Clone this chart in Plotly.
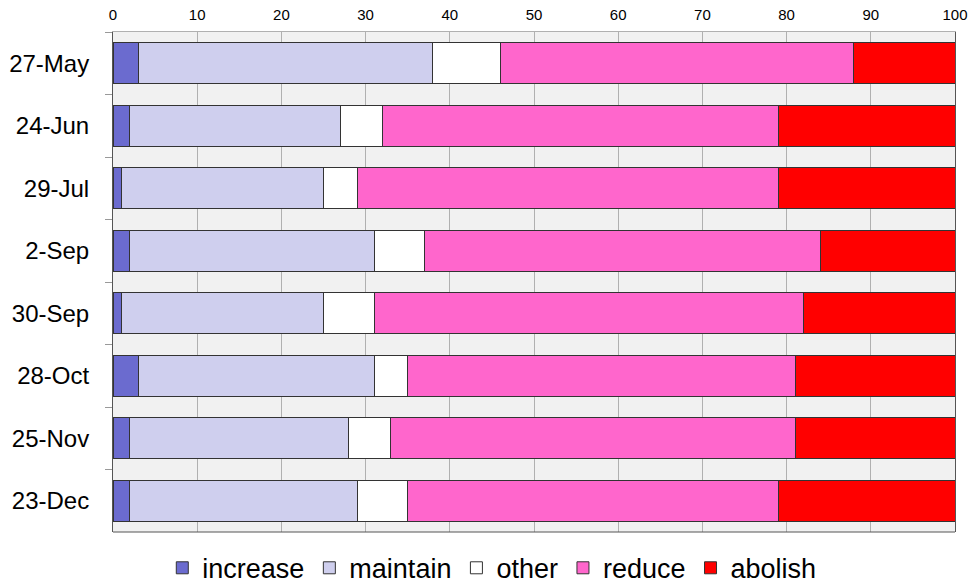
import plotly.graph_objects as go

# Survey dates (top to bottom)
dates = ["27-May", "24-Jun", "29-Jul", "2-Sep", "30-Sep", "28-Oct", "25-Nov", "23-Dec"]

# Share of responses per option, in percent
increase = [3, 2, 1, 2, 1, 3, 2, 2]
maintain = [35, 25, 24, 29, 24, 28, 26, 27]
other = [8, 5, 4, 6, 6, 4, 5, 6]
reduce = [42, 47, 50, 47, 51, 46, 48, 44]
abolish = [12, 21, 21, 16, 18, 19, 19, 21]

x_ticks = [0, 10, 20, 30, 40, 50, 60, 70, 80, 90, 100]

series = [
    ("increase", increase, "#6b6bcf"),
    ("maintain", maintain, "#cfcfee"),
    ("other", other, "#ffffff"),
    ("reduce", reduce, "#ff66cc"),
    ("abolish", abolish, "#ff0000"),
]

fig = go.Figure()
for name, vals, color in series:
    fig.add_trace(go.Bar(
        name=name,
        y=dates,
        x=vals,
        orientation="h",
        marker=dict(color=color, line=dict(color="#333333", width=1)),
    ))

fig.update_layout(
    width=970,
    height=584,
    margin=dict(l=113, r=15, t=32, b=52, autoexpand=False),
    barmode="stack",
    bargap=0.344,
    paper_bgcolor="#ffffff",
    plot_bgcolor="#f1f1f1",
    font=dict(family="Liberation Sans, Arial, sans-serif", color="#000000"),
    legend=dict(
        orientation="h",
        xref="container",
        yref="container",
        x=0.507,
        xanchor="center",
        y=0.027,
        yanchor="middle",
        font=dict(size=27),
        traceorder="normal",
    ),
    showlegend=True,
)

fig.update_xaxes(
    side="top",
    range=[0, 100],
    tickvals=x_ticks,
    ticktext=[str(v) for v in x_ticks],
    tickfont=dict(size=15),
    showgrid=True,
    gridcolor="#b0b0b0",
    gridwidth=1,
    showline=True,
    linecolor="#b0b0b0",
    linewidth=1,
    ticks="",
    ticklabelstandoff=5,
    zeroline=False,
    automargin=False,
)

fig.update_yaxes(
    autorange="reversed",
    tickson="boundaries",
    ticks="outside",
    ticklen=7,
    tickcolor="#999999",
    tickfont=dict(size=24),
    ticklabelstandoff=18,
    showgrid=False,
    showline=True,
    linecolor="#555555",
    linewidth=1,
    mirror=True,
    zeroline=False,
    automargin=False,
)

# bottom frame edge
fig.add_shape(type="line", xref="paper", yref="paper", x0=0, x1=1, y0=0, y1=0,
              line=dict(color="#555555", width=1))

fig.write_html("out.html")
